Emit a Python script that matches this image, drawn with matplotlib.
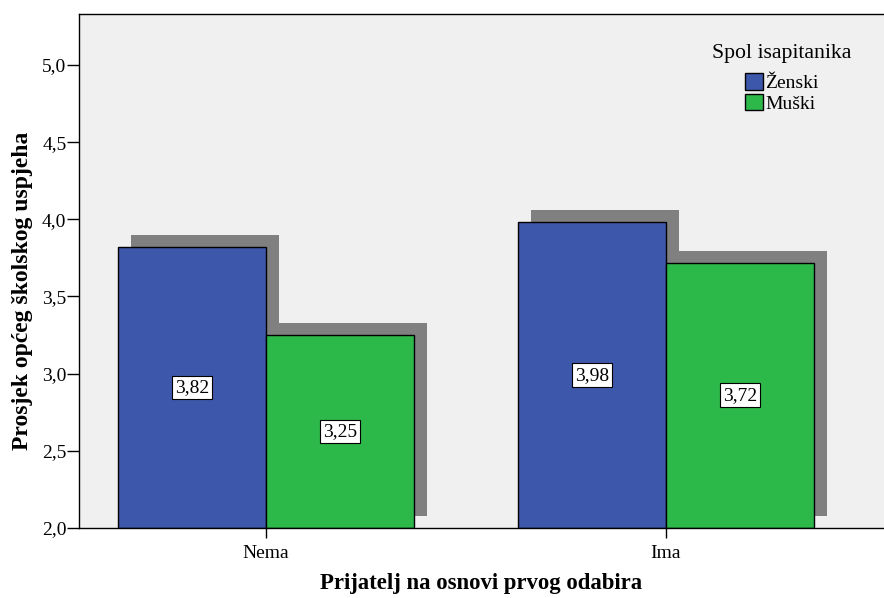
import numpy as np
import matplotlib
matplotlib.use("Agg")
import matplotlib.pyplot as plt
import matplotlib.transforms as mtransforms
from matplotlib.ticker import FuncFormatter, MultipleLocator

plt.rcParams['font.family'] = ['Liberation Serif', 'DejaVu Serif']

# mean grade by friendship status and gender
categories = ['Nema', 'Ima']
groups = ['Ženski', 'Muški']
zenski = [3.82, 3.98]
muski = [3.25, 3.72]
colors = ['#3D58AB', '#2DB84A']

fig = plt.figure(figsize=(8.84, 5.98), dpi=100)
ax = fig.add_axes([79 / 884, 70 / 598, 805 / 884, 514 / 598])
ax.set_facecolor('#F0F0F0')

x = np.arange(len(categories))
width = 0.37
base = 2.0

# drop shadows, shifted a few pixels up and right
shadow = mtransforms.offset_copy(ax.transData, fig=fig, x=13, y=12, units='dots')
for vals, off in [(zenski, -width / 2), (muski, width / 2)]:
    ax.bar(x + off, np.array(vals) - base, width, bottom=base, color='#808080',
           edgecolor='none', transform=shadow, zorder=1)

for vals, off, c, g in [(zenski, -width / 2, colors[0], groups[0]),
                        (muski, width / 2, colors[1], groups[1])]:
    ax.bar(x + off, np.array(vals) - base, width, bottom=base, color=c,
           edgecolor='black', linewidth=1, label=g, zorder=2)
    for xi, v in zip(x + off, vals):
        ax.text(xi, (v + base) / 2, f'{v:.2f}'.replace('.', ','), ha='center', va='center',
                fontsize=14, zorder=3,
                bbox=dict(boxstyle='square,pad=0.17', facecolor='white', edgecolor='black', linewidth=0.8))

ax.set_xlim(-0.4675, 1.545)
ax.set_ylim(2.0, 5.33)
ax.set_xticks(x)
ax.set_xticklabels(categories, fontsize=14)
ax.yaxis.set_major_locator(MultipleLocator(0.5))
ax.yaxis.set_major_formatter(FuncFormatter(lambda v, p: f'{v:.1f}'.replace('.', ',')))
ax.tick_params(axis='y', labelsize=14, length=9, width=1, direction='out', pad=0)
ax.tick_params(axis='x', length=7.5, width=1, pad=5)

ax.spines['right'].set_visible(False)
for s in ['left', 'bottom', 'top']:
    ax.spines[s].set_linewidth(1)

ax.set_ylabel('Prosjek općeg školskog uspjeha', fontsize=17, fontweight='bold')
ax.yaxis.set_label_coords(-0.057, 0.461)
ax.set_xlabel('Prijatelj na osnovi prvog odabira', fontsize=16.4, fontweight='bold', labelpad=8)

leg = ax.legend(title='Spol isapitanika', loc='upper right', bbox_to_anchor=(0.972, 0.961),
                frameon=False, fontsize=14, title_fontsize=15.7, handlelength=0.93,
                handleheight=0.93, handletextpad=0.1, labelspacing=0.08, borderpad=0)
leg._legend_box.align = 'center'
leg._legend_box.sep = 7.5

fig.savefig('out.png', dpi=100)
